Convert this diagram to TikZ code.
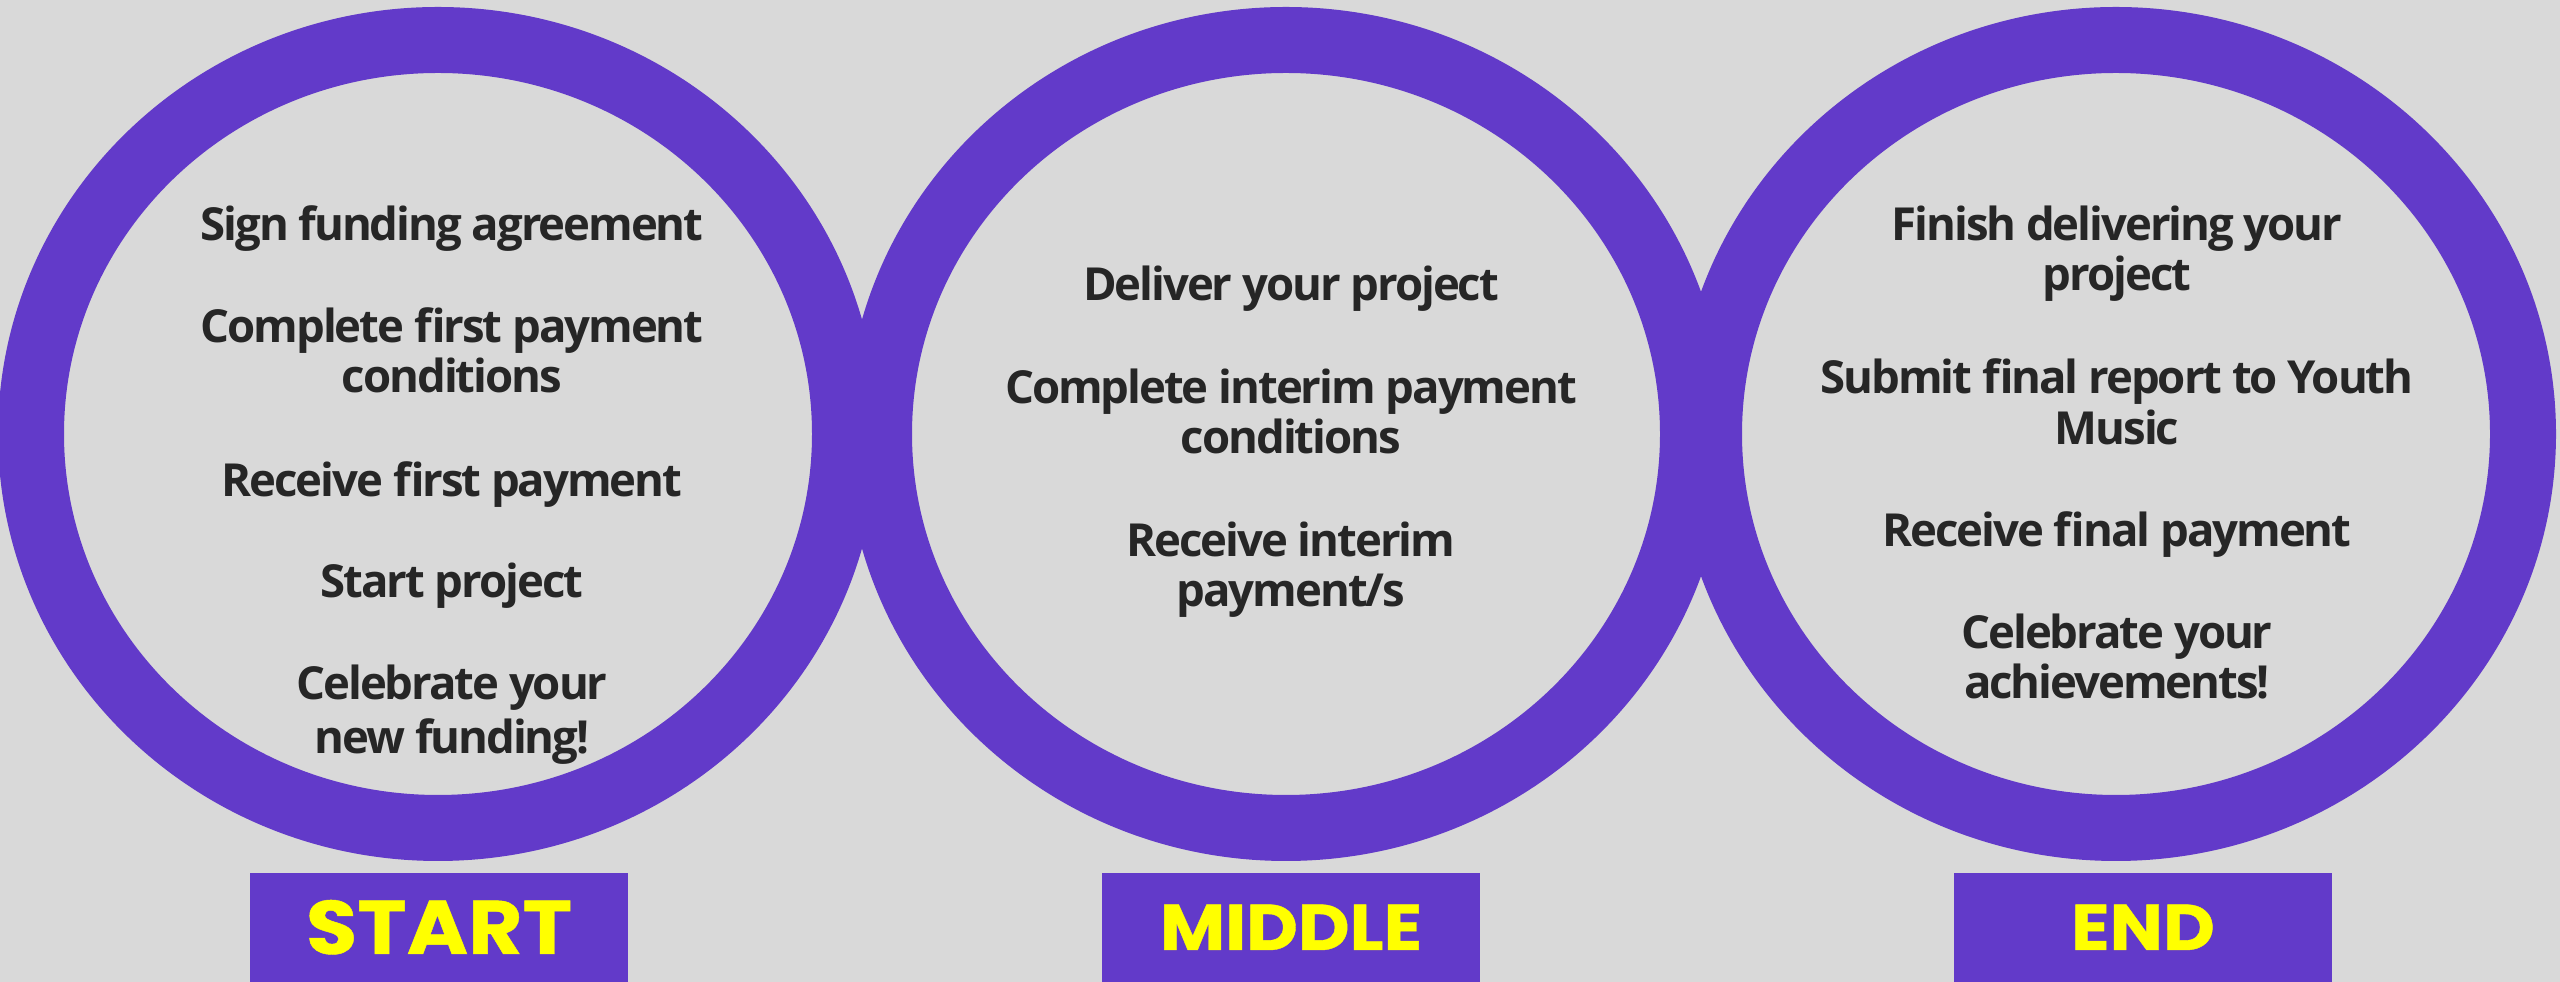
\documentclass[tikz,border=0pt]{standalone}
\usepackage{fontspec}
\setmainfont{Open Sans}[LetterSpace=-4.5]
\newfontfamily\tagfont{Poppins}[FakeStretch=1.1,FakeBold=0.6]
\definecolor{ringpurple}{RGB}{98,58,201}
\definecolor{paper}{RGB}{217,217,217}
\definecolor{ink}{RGB}{38,38,38}
\definecolor{tagyellow}{RGB}{255,255,0}

\begin{document}
\begin{tikzpicture}[
    ring/.style={draw=ringpurple,line width=0.66cm},
    item/.style={anchor=base,align=center,inner sep=0pt,text=ink,
      font=\fontsize{12.95}{14.5}\selectfont\bfseries},
    tag/.style={fill=ringpurple,text=tagyellow,inner sep=0pt,
      minimum width=3.78cm,minimum height=1.09cm,text depth=0pt}
  ]
      \fill[paper] (0,0) rectangle (25.6,9.82);
      \useasboundingbox (0,0) rectangle (25.6,9.82);

      \draw[ring] (4.38,5.48) ellipse (4.07 and 3.94);
      \draw[ring] (12.86,5.48) ellipse (4.07 and 3.94);
      \draw[ring] (21.16,5.48) ellipse (4.07 and 3.94);

      \node[item] (sign) at (4.52,7.41) {Sign funding agreement};
      \node[item] (firstcond) at (4.52,5.89) {Complete first payment\\conditions};
      \node[item] (firstpay) at (4.52,4.85) {Receive first payment};
      \node[item] (startproj) at (4.52,3.84) {Start project};
      \node[item] (celebfund) at (4.52,2.28) {Celebrate your\\[0.4mm]new funding!};

      \node[item] (deliver) at (12.91,6.815) {Deliver your project};
      \node[item] (interimcond) at (12.91,5.28) {Complete interim payment\\conditions};
      \node[item] (interimpay) at (12.91,3.75) {Receive interim\\payment/s};

      \node[item] (finish) at (21.17,6.91) {Finish delivering your\\project};
      \node[item] (report) at (21.17,5.374) {Submit final report to Youth\\Music};
      \node[item] (finalpay) at (21.17,4.35) {Receive final payment};
      \node[item] (celebach) at (21.17,2.83) {Celebrate your\\achievements!};

      \node[tag,text height=0.53cm,font=\tagfont\bfseries\fontsize{21.6}{26}\selectfont] (starttag) at (4.39,0.545) {START};
      \node[tag,text height=0.45cm,font=\tagfont\bfseries\fontsize{18.4}{22}\selectfont] (middletag) at (12.91,0.545) {MIDDLE};
      \node[tag,text height=0.45cm,font=\tagfont\bfseries\fontsize{18.4}{22}\selectfont] (endtag) at (21.43,0.545) {END};
\end{tikzpicture}
\end{document}
